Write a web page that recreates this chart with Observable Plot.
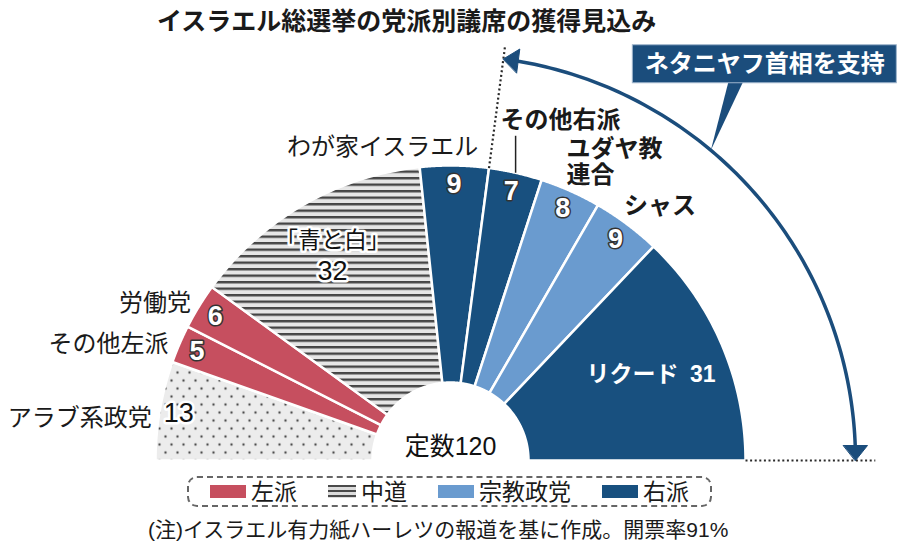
<!DOCTYPE html>
<html lang="ja">
<head>
<meta charset="utf-8">
<script src="https://cdn.jsdelivr.net/npm/d3@7"></script>
<script src="https://cdn.jsdelivr.net/npm/@observablehq/plot@0.6"></script>
<style>
  html,body{margin:0;padding:0;background:#fff;}
  #wrap{position:relative;width:900px;height:547px;overflow:hidden;font-family:"Liberation Sans","Noto Sans CJK JP",sans-serif;color:#1a1a1a;}
  #title{position:absolute;left:157px;top:1px;font-size:25px;font-weight:700;line-height:40px;white-space:nowrap;}
  #chart{position:absolute;left:0;top:40px;}
  #legend{position:absolute;left:187px;top:476px;width:525px;height:31px;box-sizing:border-box;border:2px dashed #666;border-radius:10px;display:flex;flex-wrap:nowrap;align-items:center;padding-left:21px;font-size:23px;line-height:26px;white-space:nowrap;overflow:visible;}
  .item{display:flex;align-items:center;margin-right:31px;flex-shrink:0;white-space:nowrap;}
  .item:last-child{margin-right:0;}
  .sw{height:13px;margin-right:5px;flex-shrink:0;}
  #caption{position:absolute;left:148px;top:517px;font-size:21px;line-height:26px;white-space:nowrap;}
</style>
</head>
<body>
<svg width="0" height="0" style="position:absolute">
  <defs>
    <pattern id="stripes" patternUnits="userSpaceOnUse" width="8" height="6.5">
      <rect width="8" height="6.5" fill="#e6e6e6"></rect>
      <rect y="0" width="8" height="2.4" fill="#454545"></rect>
    </pattern>
    <pattern id="dots" patternUnits="userSpaceOnUse" width="12" height="16">
      <rect width="12" height="16" fill="#ececec"></rect>
      <circle cx="3" cy="4" r="1.2" fill="#4a4a4a"></circle>
      <circle cx="9" cy="12" r="1.2" fill="#4a4a4a"></circle>
    </pattern>
  </defs>
</svg>
<div id="wrap">
  <div id="title"></div>
  <div id="chart"></div>
  <div id="legend"></div>
  <div id="caption"></div>
</div>
<script>
// ---------------- data ----------------
const parties = ["アラブ系政党", "その他左派", "労働党", "「青と白」", "わが家イスラエル", "その他右派", "ユダヤ教連合", "シャス", "リクード"];
const seats = [13, 5, 6, 32, 9, 7, 8, 9, 31];
const blocs = ["アラブ系", "左派", "左派", "中道", "右派", "右派", "宗教政党", "宗教政党", "右派"];
const supportsPM = [false, false, false, false, false, true, true, true, true];
const legendBlocs = ["左派", "中道", "宗教政党", "右派"];
const titleText = "イスラエル総選挙の党派別議席の獲得見込み";
const supportText = "ネタニヤフ首相を支持";
const totalPrefix = "定数";
const captionText = "(注)イスラエル有力紙ハーレツの報道を基に作成。開票率91%";

// ---------------- styles / layout ----------------
const blocFill = {"アラブ系": "url(#dots)", "左派": "#c64f5f", "中道": "url(#stripes)", "宗教政党": "#6a9bcf", "右派": "#18507f"};
const legendSwatch = {
  "左派": "background:#c64f5f;width:36px",
  "中道": "background:repeating-linear-gradient(to bottom,#4a4a4a 0 2px,#dcdcdc 2px 5px);width:28px",
  "宗教政党": "background:#6a9bcf;width:36px",
  "右派": "background:#18507f;width:36px"
};
const darkBlue = "#1b4d7c";
const FONT = "Liberation Sans, Noto Sans CJK JP, sans-serif";
const FONT_JP = "Noto Sans CJK JP, sans-serif";
const K = 295;             // pixels per unit radius
const W = 900, H = 432;    // svg size
const CX = 450, CY = 420;  // centre of the half ring (svg px)
const R0 = 78 / K;         // inner radius
const RA = 405 / K;        // arrow radius
const outside = {
  "アラブ系政党": {anchor: "end", dx: -8, dy: 8},
  "その他左派": {anchor: "end", dx: -11, dy: 0},
  "労働党": {anchor: "end", dx: -8, dy: -3},
  "わが家イスラエル": {anchor: "end", dx: 24, dy: -18},
  "その他右派": {anchor: "start", dx: -15, dy: -53, leader: 37},
  "ユダヤ教連合": {anchor: "start", dx: -4, dy: -29, split: 4},
  "シャス": {anchor: "start", dx: -3, dy: -18}
};

// ---------------- geometry from data ----------------
const total = d3.sum(seats);
const ang = s => Math.PI * (1 - s / total);
const pol = (r, a) => ({x: r * Math.cos(a), y: r * Math.sin(a)});
let cum = 0;
const wedges = parties.map((name, i) => {
  const a0 = ang(cum), a1 = ang(cum + seats[i]);
  cum += seats[i];
  return {name, i, a0, a1, mid: (a0 + a1) / 2, fill: blocFill[blocs[i]]};
});
const wedgePts = wedges.flatMap(w => {
  const n = 64, pts = [];
  for (let k = 0; k <= n; k++) pts.push({...pol(1, w.a0 + (w.a1 - w.a0) * k / n), name: w.name, fill: w.fill});
  for (let k = n; k >= 0; k--) pts.push({...pol(R0, w.a0 + (w.a1 - w.a0) * k / n), name: w.name, fill: w.fill});
  return pts;
});

const small = wedges.filter(w => seats[w.i] < 20);
const big = wedges.filter(w => seats[w.i] >= 20);
const isPattern = w => w.fill.startsWith("url(");
const numLight = small.filter(w => !isPattern(w)).map(w => ({...pol(0.935, w.mid), t: String(seats[w.i])}));
const numDark = small.filter(w => isPattern(w)).map(w => ({...pol(0.935, w.mid), t: String(seats[w.i])}));

const nameLabels = small.map(w => {
  const L = outside[w.name], p = pol(1, w.mid);
  const t = L.split ? w.name.slice(0, L.split) + "\n" + w.name.slice(L.split) : w.name;
  return {x: p.x + L.dx / K, y: p.y - L.dy / K, t, anchor: L.anchor, px: p.x, py: p.y, leader: L.leader};
});
const leaders = nameLabels.filter(d => d.leader).map(d => ({x: d.px, y1: d.py, y2: d.py + d.leader / K}));

const bwName = big.filter(w => isPattern(w)).map(w => {
  const p = pol(0.8, w.mid);
  return {x: p.x, y: p.y + 15 / K, t: w.name};
});
const bwNum = big.filter(w => isPattern(w)).map(w => {
  const p = pol(0.8, w.mid);
  return {x: p.x, y: p.y - 15 / K, t: String(seats[w.i])};
});
const bigSolid = big.filter(w => !isPattern(w)).map(w => ({...pol(0.74, w.mid), t: w.name + "\u2002" + seats[w.i]}));

// Netanyahu support arrow
const nonSupport = d3.sum(seats.filter((s, i) => !supportsPM[i]));
const aStart = ang(nonSupport), aEnd = ang(total);
const headL = 15 / K, headW = 12 / K, dA = headL / RA;
const arcPts = d3.range(0, 101).map(k => pol(RA, (aStart - dA) + ((aEnd + dA) - (aStart - dA)) * k / 100));
function head(a, dirSign, id) {
  const tip = pol(RA, a);
  const dir = {x: -Math.sin(a) * dirSign, y: Math.cos(a) * dirSign};
  const n = {x: Math.cos(a), y: Math.sin(a)};
  const b = {x: tip.x - dir.x * headL, y: tip.y - dir.y * headL};
  return [tip, {x: b.x + n.x * headW, y: b.y + n.y * headW}, {x: b.x - n.x * headW, y: b.y - n.y * headW}].map(p => ({...p, id}));
}
const heads = [...head(aStart, 1, "s"), ...head(aEnd, -1, "e")];
const dotLines = [
  {x1: pol(1, aStart).x, y1: pol(1, aStart).y, x2: pol(1.42, aStart).x, y2: pol(1.42, aStart).y},
  {x1: pol(1, aEnd).x, y1: pol(1, aEnd).y, x2: pol(1.44, aEnd).x, y2: pol(1.44, aEnd).y}
];
const tip = pol(RA, 50 * Math.PI / 180);
const box = {x1: tip.x - 78 / K, x2: tip.x + 186 / K, y1: tip.y + 67 / K, y2: tip.y + 105 / K};
const pointer = [
  {x: tip.x, y: tip.y},
  {x: tip.x + 18 / K, y: tip.y + 70 / K},
  {x: tip.x + 33 / K, y: tip.y + 70 / K}
];

// ---------------- plot ----------------
const chart = Plot.plot({
  width: W, height: H,
  marginTop: 0, marginRight: 0, marginBottom: 0, marginLeft: 0,
  x: {domain: [-CX / K, (W - CX) / K], axis: null},
  y: {domain: [-(H - CY) / K, CY / K], axis: null},
  color: {type: "identity"},
  style: {background: "transparent", overflow: "visible"},
  marks: [
    Plot.line(wedgePts, {x: "x", y: "y", z: "name", fill: "fill", stroke: "#fff", strokeWidth: 2.5, curve: "linear-closed"}),
    Plot.link(dotLines, {x1: "x1", y1: "y1", x2: "x2", y2: "y2", stroke: "#2a2a2a", strokeWidth: 2.2, strokeDasharray: "2 2.6"}),
    Plot.line(arcPts, {x: "x", y: "y", stroke: darkBlue, strokeWidth: 3.5}),
    Plot.line(heads, {x: "x", y: "y", z: "id", fill: darkBlue, stroke: darkBlue, strokeWidth: 1, curve: "linear-closed"}),
    Plot.line(pointer, {x: "x", y: "y", fill: darkBlue, stroke: "none", curve: "linear-closed"}),
    Plot.rect([box], {x1: "x1", x2: "x2", y1: "y1", y2: "y2", fill: darkBlue, stroke: "#9fb5cc", strokeWidth: 1}),
    Plot.text([supportText], {x: (box.x1 + box.x2) / 2, y: tip.y + 86 / K, text: d => d, fill: "#fff", fontSize: 24, fontWeight: 700, fontFamily: FONT}),
    Plot.link(leaders, {x1: "x", x2: "x", y1: "y1", y2: "y2", stroke: "#222", strokeWidth: 1.5}),
    Plot.text(nameLabels.filter(d => d.anchor === "end"), {x: "x", y: "y", text: "t", textAnchor: "end", fontSize: 24, fontFamily: FONT, fill: "#1a1a1a"}),
    Plot.text(nameLabels.filter(d => d.anchor === "start"), {x: "x", y: "y", text: "t", textAnchor: "start", fontSize: 24, fontWeight: 700, lineHeight: 1.05, fontFamily: FONT, fill: "#1a1a1a"}),
    Plot.text(numLight, {x: "x", y: "y", text: "t", fontSize: 27, fontWeight: 700, fontFamily: FONT, fill: "#fff", stroke: "#333", strokeWidth: 3, paintOrder: "stroke", strokeLinejoin: "round"}),
    Plot.text(numDark, {x: "x", y: "y", text: "t", fontSize: 27, fontFamily: FONT, fill: "#111", stroke: "#fff", strokeWidth: 5, paintOrder: "stroke", strokeLinejoin: "round"}),
    Plot.text(bwName, {x: "x", y: "y", text: "t", fontSize: 23, fontFamily: FONT_JP, fill: "#111", stroke: "#fff", strokeWidth: 5, paintOrder: "stroke", strokeLinejoin: "round"}),
    Plot.text(bwNum, {x: "x", y: "y", text: "t", fontSize: 27, fontFamily: FONT, fill: "#111", stroke: "#fff", strokeWidth: 5, paintOrder: "stroke", strokeLinejoin: "round"}),
    Plot.text(bigSolid, {x: "x", y: "y", text: "t", fontSize: 23, fontWeight: 700, fontFamily: FONT, fill: "#fff"}),
    Plot.text([`${totalPrefix}${total}`], {x: 0, y: 14 / K, text: d => d, fontSize: 25, fontFamily: FONT, fill: "#111"})
  ]
});
document.getElementById("chart").appendChild(chart);

// ---------------- html text ----------------
document.getElementById("title").textContent = titleText;
document.getElementById("caption").textContent = captionText;
const legend = d3.select("#legend");
legendBlocs.forEach(b => {
  const it = legend.append("div").attr("class", "item");
  it.append("div").attr("class", "sw").attr("style", legendSwatch[b]);
  it.append("span").text(b);
});
</script>
</body>
</html>
